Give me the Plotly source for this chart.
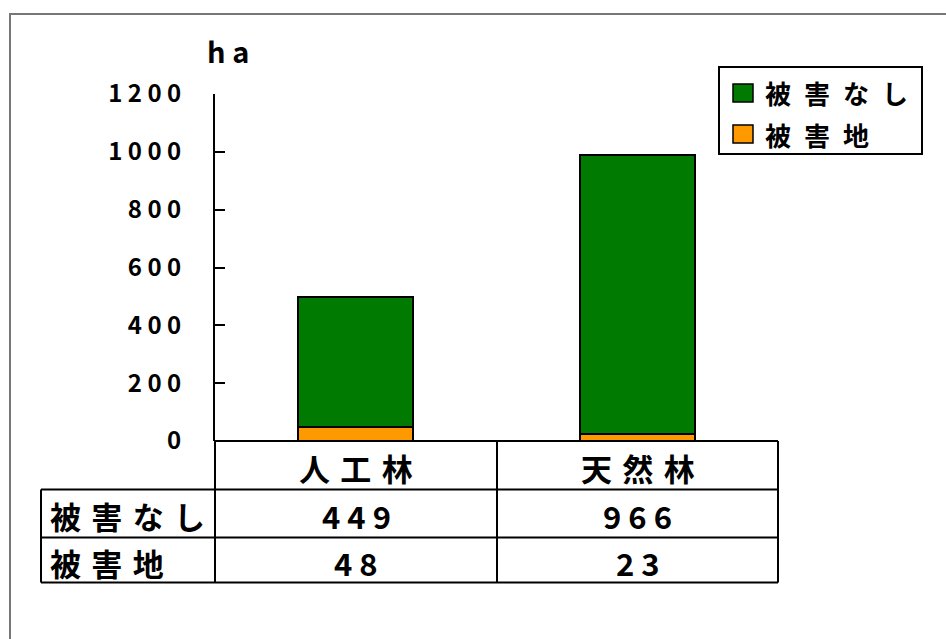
import plotly.graph_objects as go

# ---- data ----
categories = ["人工林", "天然林"]
series_names = ["被害なし", "被害地"]
no_damage = [449, 966]
damaged = [48, 23]
unit_label = "ha"
y_ticks = [0, 200, 400, 600, 800, 1000, 1200]

GREEN = "#007A00"
ORANGE = "#FF9900"
FONT = "Noto Sans CJK JP"

W, H = 946, 639
L, R, T, B = 215, 778, 94, 441  # plot area in pixels


def px(x):
    return (x - L) / (R - L)


def py(y):
    return (B - y) / (B - T)


def spaced(s, sep=" "):
    return sep.join(list(str(s)))


fig = go.Figure()
fig.add_trace(go.Bar(x=categories, y=damaged, name=series_names[1],
                     marker=dict(color=ORANGE, line=dict(color="black", width=2)),
                     width=0.41, showlegend=False))
fig.add_trace(go.Bar(x=categories, y=no_damage, name=series_names[0],
                     marker=dict(color=GREEN, line=dict(color="black", width=2)),
                     width=0.41, showlegend=False))

shapes = []
# outer gray border
shapes.append(dict(type="rect", xref="paper", yref="paper",
                   x0=px(10), x1=px(960), y0=py(14), y1=py(700),
                   line=dict(color="#777777", width=2), layer="below"))


def hline(y, x0, x1):
    shapes.append(dict(type="line", xref="paper", yref="paper",
                       x0=px(x0), x1=px(x1), y0=py(y), y1=py(y),
                       line=dict(color="black", width=2)))


def vline(x, y0, y1):
    shapes.append(dict(type="line", xref="paper", yref="paper",
                       x0=px(x), x1=px(x), y0=py(y0), y1=py(y1),
                       line=dict(color="black", width=2)))


# data table grid
hline(441, 215, 778)
hline(489.5, 41, 778)
hline(537.5, 41, 778)
hline(582.5, 41, 778)
vline(215, 441, 582.5)
vline(41, 489.5, 582.5)
vline(497, 441, 582.5)
vline(778, 441, 582.5)

annotations = []


def text(x, y, s, size, xanchor="center"):
    annotations.append(dict(xref="paper", yref="paper", x=px(x), y=py(y),
                            text=s, showarrow=False, xanchor=xanchor,
                            yanchor="middle",
                            font=dict(family=FONT, size=size, color="black",
                                      weight="bold")))


col_centers = [356, 637.5]
for cx, cat, v1, v2 in zip(col_centers, categories, no_damage, damaged):
    text(cx, 467, spaced(cat, "\u2004"), 31)
    text(cx, 515, spaced(v1), 31)
    text(cx, 562, spaced(v2), 31)

text(48, 515, spaced(series_names[0], "\u2004"), 31, "left")
text(48, 562, spaced(series_names[1], "\u2004"), 31, "left")

# unit label
text(228, 50, spaced(unit_label), 29)

# legend (custom box)
shapes.append(dict(type="rect", xref="paper", yref="paper",
                   x0=px(719), x1=px(922), y0=py(67), y1=py(154),
                   line=dict(color="black", width=2), fillcolor="white"))
for (yc, name, col) in [(93, series_names[0], GREEN), (134, series_names[1], ORANGE)]:
    shapes.append(dict(type="rect", xref="paper", yref="paper",
                       x0=px(733), x1=px(753), y0=py(yc - 9), y1=py(yc + 9),
                       line=dict(color="black", width=1.5), fillcolor=col))
    text(763, yc, spaced(name, "\u2002"), 26, "left")

fig.update_layout(
    width=W, height=H,
    margin=dict(l=L, r=W - R, t=T, b=H - B, pad=0),
    paper_bgcolor="white", plot_bgcolor="white",
    barmode="stack", bargap=0,
    shapes=shapes, annotations=annotations,
    xaxis=dict(range=[-0.5, 1.5], showticklabels=False, showgrid=False,
               zeroline=False, showline=False, ticks=""),
    yaxis=dict(range=[0, 1200], tickvals=y_ticks,
               ticktext=[spaced(v) for v in y_ticks],
               ticks="inside", ticklen=10, tickwidth=2, tickcolor="black",
               showline=True, linecolor="black", linewidth=2,
               showgrid=False, zeroline=False, ticklabelstandoff=27,
               tickfont=dict(family=FONT, size=24, color="black", weight="bold")),
)

fig.write_html("out.html")
